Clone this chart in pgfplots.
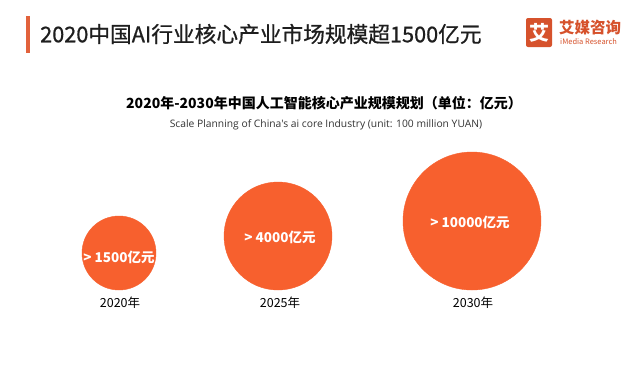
\documentclass[border=0pt]{standalone}
\usepackage{pgfplots}
\pgfplotsset{compat=1.18}
\usepackage{fontspec}
\setmainfont{Noto Sans CJK SC}
\newfontfamily\latin{Open Sans}
\newfontfamily\titlefont{Noto Sans CJK SC}[FakeBold=0.7]
\definecolor{circ}{RGB}{247,96,46}
\definecolor{logo}{RGB}{214,82,44}
\definecolor{bar}{RGB}{226,98,60}
\definecolor{titlec}{RGB}{30,30,30}
\begin{document}
\begin{tikzpicture}
\begin{axis}[
  width=640pt, height=384pt, scale only axis,
  xmin=0, xmax=640, ymin=0, ymax=384, y dir=reverse,
  hide axis, clip=false,
  every node near coord/.style={anchor=center, white, inner sep=0pt, font=\fontsize{13.5}{13.5}\selectfont\bfseries},
]
% background to fix bounding box
\fill[white] (axis cs:0,0) rectangle (axis cs:640,384);
% circles: x, y (pixel), radius
\addplot[only marks, mark=*, mark size=37pt, color=circ, mark options={draw=circ, fill=circ},
  nodes near coords={> 1500亿元}, every node near coord/.append style={yshift=-4pt}] coordinates {(119,253)};
\addplot[only marks, mark=*, mark size=54pt, color=circ, mark options={draw=circ, fill=circ},
  nodes near coords={> 4000亿元}, every node near coord/.append style={yshift=-1pt, xshift=2pt}] coordinates {(278,236)};
\addplot[only marks, mark=*, mark size=69pt, color=circ, mark options={draw=circ, fill=circ},
  nodes near coords={> 10000亿元}, every node near coord/.append style={yshift=-1pt, xshift=-2pt}] coordinates {(472,221)};
% years
\node[black, font=\fontsize{12.5}{12.5}\selectfont] at (axis cs:120,303) {2020年};
\node[black, font=\fontsize{12.5}{12.5}\selectfont] at (axis cs:280,303) {2025年};
\node[black, font=\fontsize{12.5}{12.5}\selectfont] at (axis cs:473,303) {2030年};
% title bar and title
\fill[bar] (axis cs:26,16) rectangle (axis cs:30,53);
\node[anchor=west, titlec, inner sep=0pt, font=\titlefont\fontsize{21.7}{21.7}\selectfont] at (axis cs:40,34) {2020中国AI行业核心产业市场规模超1500亿元};
% logo
\fill[logo, rounded corners=2pt] (axis cs:526,18) rectangle (axis cs:552,47);
\node[white, inner sep=0pt, font=\fontsize{20}{20}\selectfont\bfseries] at (axis cs:539,32.5) {艾};
\node[anchor=west, logo, inner sep=0pt, font=\fontsize{15.5}{15.5}\selectfont\bfseries] at (axis cs:559,28) {艾媒咨询};
\node[anchor=west, logo, inner sep=0pt, font=\fontsize{7.5}{7.5}\selectfont] at (axis cs:560,41.5) {iMedia Research};
% subtitle
\node[black, inner sep=0pt, font=\fontsize{14}{14}\selectfont\bfseries] at (axis cs:324,103) {2020年-2030年中国人工智能核心产业规模规划（单位：亿元）};
\node[black!80, inner sep=0pt, font=\latin\fontsize{10.3}{10.3}\selectfont] at (axis cs:326,125) {Scale Planning of China's ai core Industry (unit: 100 million YUAN)};
\end{axis}
\end{tikzpicture}
\end{document}
